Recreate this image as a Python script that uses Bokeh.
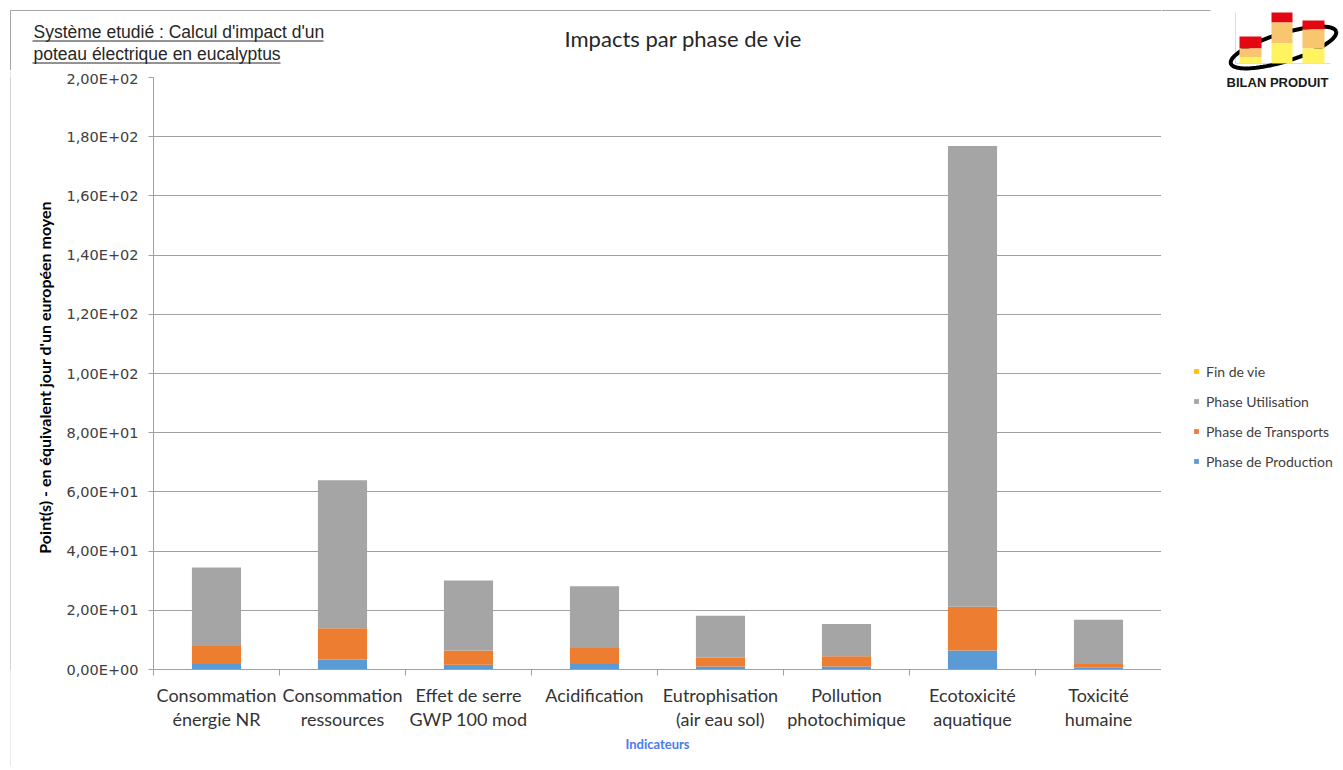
import numpy as np
from bokeh.plotting import figure
from bokeh.layouts import row, column
from bokeh.models import (Range1d, FixedTicker, ColumnDataSource, Legend, LegendItem, Label, Spacer)
from bokeh.embed import file_html
from bokeh.resources import INLINE

# ---------------- data ----------------
categories = ["Consommation\nénergie NR", "Consommation\nressources", "Effet de serre\nGWP 100 mod",
              "Acidification", "Eutrophisation\n(air eau sol)", "Pollution\nphotochimique",
              "Ecotoxicité\naquatique", "Toxicité\nhumaine"]
production = [1.9, 3.4, 1.6, 1.9, 1.0, 1.0, 6.4, 0.6]
transports = [6.0, 10.5, 4.8, 5.4, 2.95, 3.5, 14.8, 1.3]
utilisation = [26.6, 50.0, 23.7, 20.8, 14.25, 10.9, 155.7, 14.9]
fin_de_vie = [0.0, 0.0, 0.0, 0.0, 0.0, 0.0, 0.0, 0.0]
series_names = ["Phase de Production", "Phase de Transports", "Phase Utilisation", "Fin de vie"]
series_colors = ["#5B9BD5", "#ED7D31", "#A5A5A5", "#FFC000"]
y_ticks = [0, 20, 40, 60, 80, 100, 120, 140, 160, 180, 200]
y_tick_labels = ["0,00E+00", "2,00E+01", "4,00E+01", "6,00E+01", "8,00E+01", "1,00E+02",
                 "1,20E+02", "1,40E+02", "1,60E+02", "1,80E+02", "2,00E+02"]
chart_title = "Impacts par phase de vie"
system_lines = ["Système etudié : Calcul d'impact d'un", "poteau électrique en eucalyptus"]
y_title = "Point(s)  - en équivalent  jour d'un européen moyen"
x_title = "Indicateurs"

BORDER = "#a6a6a6"


def deco_fig(x0, x1, y0, y1):
    """A figure whose frame covers its whole canvas; coordinates = page pixels."""
    f = figure(width=x1 - x0, height=y1 - y0, output_backend="svg", toolbar_location=None,
               x_range=Range1d(x0, x1), y_range=Range1d(y1, y0),
               x_axis_type=None, y_axis_type=None, min_border=0)
    f.outline_line_color = None
    f.background_fill_color = "white"
    f.border_fill_color = "white"
    return f


def lab(f, text, x, y, size, font, color="#262626", align="left", baseline="middle", style="normal"):
    f.add_layout(Label(x=x, y=y, text=text, text_font=font, text_font_size=size, text_color=color,
                       text_align=align, text_baseline=baseline, text_font_style=style))


# ---------------- top strip: title + system description ----------------
top = deco_fig(0, 1161, 0, 70)
top.segment(x0=[10, 10], y0=[10, 10], x1=[1161, 10], y1=[10, 70], line_color=BORDER, line_width=1)
lab(top, chart_title, 683, 38, "22px", "Lato", color="#262626", align="center")
lab(top, system_lines[0], 33, 31.5, "17.5px", "Liberation Sans")
lab(top, system_lines[1], 33, 53.5, "17.5px", "Liberation Sans")
top.segment(x0=[32, 32], y0=[40.5, 62.5], x1=[323, 280], y1=[40.5, 62.5], line_color="#262626", line_width=1)

# ---------------- left border: a 1px grey figure ----------------
edge = figure(width=1, height=696, output_backend="svg", toolbar_location=None,
              x_axis_type=None, y_axis_type=None, min_border=0)
edge.outline_line_color = None
edge.background_fill_color = BORDER
edge.border_fill_color = BORDER

# ---------------- main chart ----------------
p = figure(width=1150, height=696, output_backend="svg", toolbar_location=None,
           x_range=Range1d(0, len(categories)), y_range=Range1d(0, 200),
           min_border_left=142, min_border_right=0, min_border_top=7, min_border_bottom=97)
p.outline_line_color = None
p.background_fill_color = "white"
p.border_fill_color = "white"

xs = [i + 0.5 for i in range(len(categories))]
src = ColumnDataSource(dict(x=xs, s0=production, s1=transports, s2=utilisation, s3=fin_de_vie))
p.vbar_stack(["s0", "s1", "s2", "s3"], x="x", width=0.39, color=series_colors,
             line_color=None, source=src)

grey = "#a0a0a0"
p.xgrid.visible = False
p.ygrid.grid_line_color = grey
p.ygrid.grid_line_width = 1

p.yaxis.ticker = FixedTicker(ticks=y_ticks, minor_ticks=[])
p.yaxis.major_label_overrides = {t: l for t, l in zip(y_ticks, y_tick_labels)}
p.yaxis.axis_line_color = grey
p.yaxis.major_tick_line_color = grey
p.yaxis.major_tick_out = 5
p.yaxis.major_tick_in = 0
p.yaxis.minor_tick_line_color = None
p.yaxis.major_label_text_font = "DejaVu Sans"
p.yaxis.major_label_text_font_size = "14.5px"
p.yaxis.major_label_text_color = "#404040"
p.yaxis.major_label_standoff = 10
p.yaxis.axis_label = y_title
p.yaxis.axis_label_text_font = "Lato"
p.yaxis.axis_label_text_font_style = "bold"
p.yaxis.axis_label_text_font_size = "16px"
p.yaxis.axis_label_text_color = "#000000"
p.yaxis.axis_label_standoff = 9

p.xaxis.ticker = FixedTicker(ticks=xs, minor_ticks=list(range(len(categories) + 1)))
p.xaxis.major_label_overrides = {x: c for x, c in zip(xs, categories)}
p.xaxis.axis_line_color = grey
p.xaxis.major_tick_line_color = None
p.xaxis.major_tick_out = 0
p.xaxis.major_tick_in = 0
p.xaxis.minor_tick_line_color = grey
p.xaxis.minor_tick_out = 6
p.xaxis.minor_tick_in = 0
p.xaxis.major_label_text_font = "Lato"
p.xaxis.major_label_text_font_size = "18px"
p.xaxis.major_label_text_color = "#333333"
p.xaxis.major_label_text_line_height = 1.12
p.xaxis.major_label_standoff = 8
p.xaxis.axis_label = x_title
p.xaxis.axis_label_text_font = "Lato"
p.xaxis.axis_label_text_font_style = "bold"
p.xaxis.axis_label_text_font_size = "13px"
p.xaxis.axis_label_text_color = "#4a7bea"
p.xaxis.axis_label_standoff = 3

# ---------------- right strip: logo + legend ----------------
right = deco_fig(1161, 1341, 0, 766)
right.segment(x0=[1161], y0=[10], x1=[1210], y1=[10], line_color=BORDER, line_width=1)

# logo "BILAN PRODUIT"
right.segment(x0=[1235, 1235], y0=[12, 63], x1=[1235, 1330], y1=[63, 63], line_color="#dddddd", line_width=1)
t = np.linspace(0, 2 * np.pi, 90)
th = np.deg2rad(-17)
cx, cy, a, b = 1283, 47, 55, 14
ex = cx + a * np.cos(t) * np.cos(th) - b * np.sin(t) * np.sin(th)
ey = cy + a * np.cos(t) * np.sin(th) + b * np.sin(t) * np.cos(th)
right.line(ex, ey, line_color="black", line_width=4)
logo_red, logo_org, logo_yel = "#E30613", "#F8C66F", "#FFF35F"
right.quad(left=[1239, 1239, 1239, 1271, 1271, 1271, 1302, 1302, 1302],
           right=[1261, 1261, 1261, 1292, 1292, 1292, 1324, 1324, 1324],
           top=[36, 48, 57, 12, 22, 43, 20, 29, 48],
           bottom=[48, 57, 63, 22, 43, 63, 29, 48, 63],
           color=[logo_red, logo_org, logo_yel] * 3, line_color=None)
lab(right, "BILAN PRODUIT", 1277, 82, "13px", "Liberation Sans", color="#1a1a1a",
    align="center", style="bold")

# legend swatches: zero-size bars (invisible) that carry each series' colour
swatches = [right.vbar(x=[0], top=[0], bottom=[0], width=0, color=c, line_color=None)
            for c in series_colors]
items = [LegendItem(label=n, renderers=[r], index=0) for n, r in zip(series_names, swatches)][::-1]
legend = Legend(items=items, location=(32, 295), orientation="vertical",
                label_text_font="Lato", label_text_font_size="14px", label_text_color="#404040",
                glyph_width=6, glyph_height=6, label_standoff=7, label_height=20, spacing=10,
                padding=0, margin=0, border_line_color=None, background_fill_alpha=0)
right.add_layout(legend, "center")

layout = row(column(top, row(Spacer(width=10, height=696), edge, p)), right)
open("out.html", "w").write(file_html(layout, INLINE))
